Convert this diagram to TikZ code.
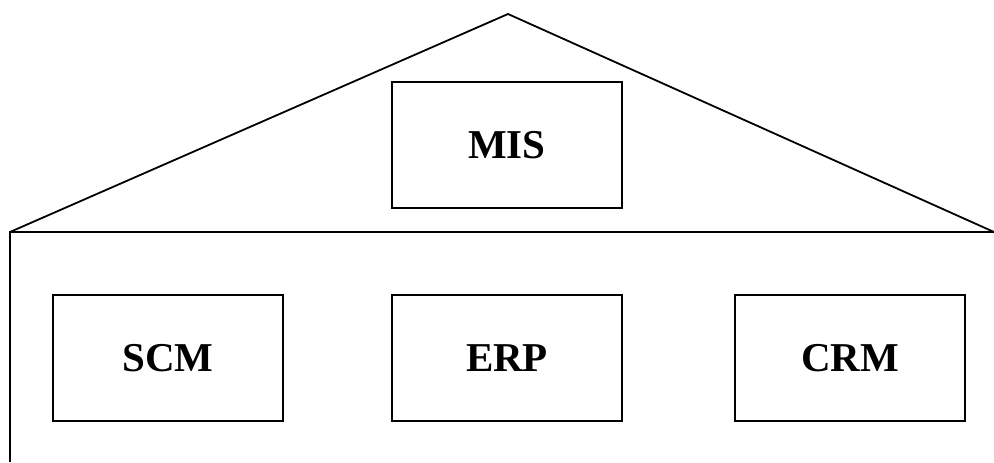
\documentclass[tikz,border=0pt]{standalone}
\usepackage{fontspec}
\setmainfont{Liberation Serif}
\usetikzlibrary{positioning}

\tikzset{
  module/.style={draw, line width=1.8pt, minimum width=230pt, minimum height=126pt,
    inner sep=0pt, font=\fontsize{41}{47}\selectfont\bfseries}
}

\begin{document}
\begin{tikzpicture}[x=1pt,y=-1pt,on grid,node distance=213pt]
  \useasboundingbox (0,0) rectangle (994,463);
  \coordinate (top) at (508,14);
  \coordinate (eaveL) at (10,232);
  \coordinate (eaveR) at (994,232);
  \coordinate (wall) at (10,462);
  % roof and wall
  \draw[line width=1.8pt,line join=miter] (eaveL) -- (top) -- (eaveR);
  \draw[line width=1.8pt] (eaveR) -- (eaveL) -- (wall);
  % modules
  \node[module] (mis) at (507,145) {MIS};
  \node[module] (erp) [below = of mis] {ERP};
  \node[module] (scm) [left = 339pt of erp] {SCM};
  \node[module] (crm) [right = 343pt of erp] {CRM};
\end{tikzpicture}
\end{document}
